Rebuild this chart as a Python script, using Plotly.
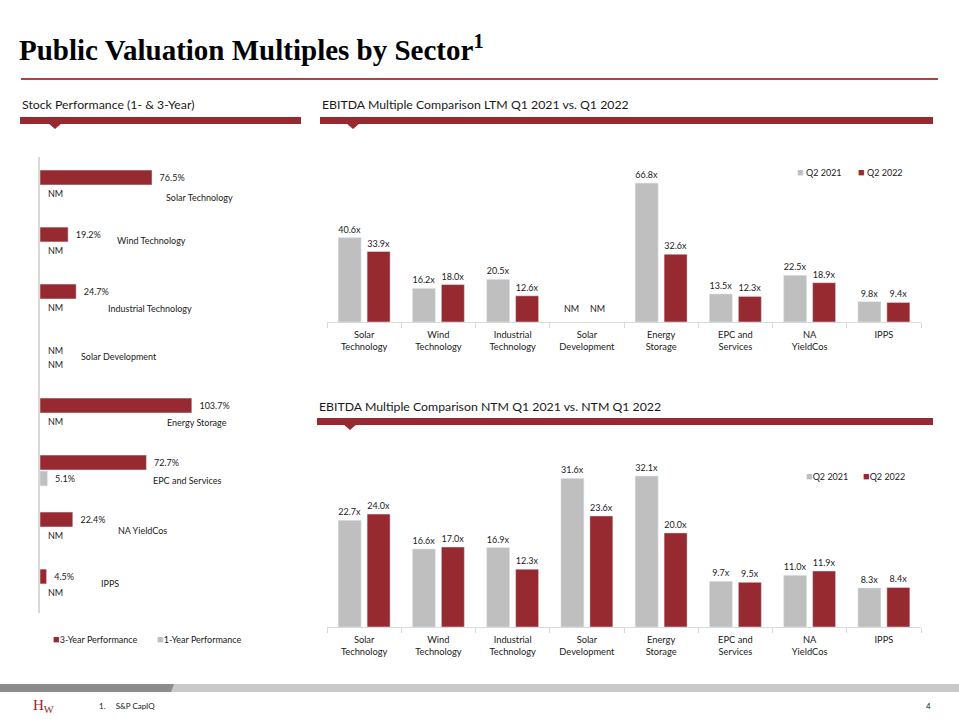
import plotly.graph_objects as go

# ---------------- data ----------------
perf_categories = ["Solar Technology", "Wind Technology", "Industrial Technology", "Solar Development",
                   "Energy Storage", "EPC and Services", "NA YieldCos", "IPPS"]
perf_3yr = [76.5, 19.2, 24.7, None, 103.7, 72.7, 22.4, 4.5]
perf_1yr = [None, None, None, None, None, 5.1, None, None]

sectors = ["Solar<br>Technology", "Wind<br>Technology", "Industrial<br>Technology", "Solar<br>Development",
           "Energy<br>Storage", "EPC and<br>Services", "NA<br>YieldCos", "IPPS"]
ltm_2021 = [40.6, 16.2, 20.5, None, 66.8, 13.5, 22.5, 9.8]
ltm_2022 = [33.9, 18.0, 12.6, None, 32.6, 12.3, 18.9, 9.4]
ntm_2021 = [22.7, 16.6, 16.9, 31.6, 32.1, 9.7, 11.0, 8.3]
ntm_2022 = [24.0, 17.0, 12.3, 23.6, 20.0, 9.5, 11.9, 8.4]

series_names = ["Q2 2021", "Q2 2022"]
perf_series = ["3-Year Performance", "1-Year Performance"]

# label placement for left chart category names (x in % units, y shift px)
perf_label_x = [109, 76, 75, 54, 107, 100.5, 70, 47.5]
perf_label_dy = [-12, 2.5, -8.5, 0, -8.5, -9.5, -2.5, 1.5]

RED = "#962a30"
GRAY = "#bfbfbf"
TXT = "#1a1a1a"
FONT = "Lato"
W, H = 959, 719


def px(x):
    return x / W


def py(y):
    return 1 - y / H


fig = go.Figure()

# ---------------- left: stock performance ----------------
fig.add_trace(go.Bar(
    y=perf_categories, x=perf_3yr, orientation="h", name=perf_series[0],
    marker=dict(color=RED), width=0.26, offset=-0.27,
    texttemplate="  %{x:.1f}%", textposition="outside",
    textfont=dict(size=9, color=TXT, family=FONT), cliponaxis=False,
    xaxis="x", yaxis="y", showlegend=False))
fig.add_trace(go.Bar(
    y=perf_categories, x=perf_1yr, orientation="h", name=perf_series[1],
    marker=dict(color=GRAY), width=0.26, offset=0.01,
    texttemplate="  %{x:.1f}%", textposition="outside",
    textfont=dict(size=9, color=TXT, family=FONT), cliponaxis=False,
    xaxis="x", yaxis="y", showlegend=False))

# ---------------- top right: LTM ----------------
fig.add_trace(go.Bar(x=sectors, y=ltm_2021, name=series_names[0], marker=dict(color=GRAY),
                     width=0.31, offset=-0.35,
                     texttemplate="%{y:.1f}x", textposition="outside", cliponaxis=False,
                     textfont=dict(size=9, color=TXT, family=FONT),
                     xaxis="x2", yaxis="y2", showlegend=False))
fig.add_trace(go.Bar(x=sectors, y=ltm_2022, name=series_names[1], marker=dict(color=RED),
                     width=0.31, offset=0.04,
                     texttemplate="%{y:.1f}x", textposition="outside", cliponaxis=False,
                     textfont=dict(size=9, color=TXT, family=FONT),
                     xaxis="x2", yaxis="y2", showlegend=False))

# ---------------- bottom right: NTM ----------------
fig.add_trace(go.Bar(x=sectors, y=ntm_2021, name=series_names[0], marker=dict(color=GRAY),
                     width=0.31, offset=-0.35,
                     texttemplate="%{y:.1f}x", textposition="outside", cliponaxis=False,
                     textfont=dict(size=9, color=TXT, family=FONT),
                     xaxis="x3", yaxis="y3", showlegend=False))
fig.add_trace(go.Bar(x=sectors, y=ntm_2022, name=series_names[1], marker=dict(color=RED),
                     width=0.31, offset=0.04,
                     texttemplate="%{y:.1f}x", textposition="outside", cliponaxis=False,
                     textfont=dict(size=9, color=TXT, family=FONT),
                     xaxis="x3", yaxis="y3", showlegend=False))

axis_common = dict(showgrid=False, zeroline=False)
fig.update_layout(
    width=W, height=H, margin=dict(l=0, r=0, t=0, b=0),
    paper_bgcolor="white", plot_bgcolor="white",
    barmode="group",
    font=dict(family=FONT, color=TXT),
    xaxis=dict(domain=[px(40), px(300)], range=[0, 177.6], visible=False, anchor="y", **axis_common),
    yaxis=dict(domain=[py(613), py(157)], autorange="reversed", showticklabels=False,
               showline=True, linecolor="#d9d9d9", linewidth=2, ticks="", anchor="x", **axis_common),
    xaxis2=dict(domain=[px(327), px(921)], anchor="y2", showline=True, linecolor="#d9d9d9", linewidth=1,
                ticks="outside", tickson="boundaries", ticklen=5, tickcolor="#d9d9d9",
                ticklabelstandoff=4,
                tickfont=dict(size=9.3, color=TXT, family=FONT), **axis_common),
    yaxis2=dict(domain=[py(322), py(160)], range=[0, 77.9], visible=False, anchor="x2", **axis_common),
    xaxis3=dict(domain=[px(327), px(921)], anchor="y3", showline=True, linecolor="#d9d9d9", linewidth=1,
                ticks="outside", tickson="boundaries", ticklen=5, tickcolor="#d9d9d9",
                ticklabelstandoff=4,
                tickfont=dict(size=9.3, color=TXT, family=FONT), **axis_common),
    yaxis3=dict(domain=[py(627), py(460)], range=[0, 35.5], visible=False, anchor="x3", **axis_common),
)

shapes = []
annotations = []

# title + rule
annotations.append(dict(x=px(17), y=py(48), xref="paper", yref="paper", xanchor="left", yanchor="middle",
                        text="<b>Public Valuation Multiples by Sector<sup>1</sup></b>", showarrow=False,
                        font=dict(family="Liberation Serif", size=29, color="#000000")))
shapes.append(dict(type="line", xref="paper", yref="paper", x0=px(21), x1=px(938), y0=py(79), y1=py(79),
                   line=dict(color="#a8454a", width=2)))


def header(x0, x1, ytext, ybar, tri_x, text):
    annotations.append(dict(x=px(x0), y=py(ytext), xref="paper", yref="paper", xanchor="left", yanchor="middle",
                            text=text, showarrow=False, font=dict(family=FONT, size=12.3, color=TXT)))
    shapes.append(dict(type="rect", xref="paper", yref="paper", x0=px(x0), x1=px(x1),
                       y0=py(ybar + 7), y1=py(ybar), line=dict(width=0), fillcolor=RED))
    shapes.append(dict(type="path", xref="paper", yref="paper",
                       path=f"M {px(tri_x - 7)} {py(ybar + 6)} L {px(tri_x + 7)} {py(ybar + 6)} L {px(tri_x)} {py(ybar + 12)} Z",
                       line=dict(width=0), fillcolor=RED))


header(20, 301, 105, 117, 55, "Stock Performance (1- & 3-Year)")
header(320, 933, 105, 117, 353, "EBITDA Multiple Comparison LTM Q1 2021 vs. Q1 2022")
header(317, 933, 406, 418, 350, "EBITDA Multiple Comparison NTM Q1 2021 vs. NTM Q1 2022")

# left chart category labels and NM markers
for i, cat in enumerate(perf_categories):
    annotations.append(dict(x=perf_label_x[i], y=cat, xref="x", yref="y", yshift=perf_label_dy[i],
                            text=cat, showarrow=False, font=dict(size=9, color=TXT, family=FONT)))
    if perf_3yr[i] is None:
        annotations.append(dict(x=0, y=cat, xref="x", yref="y", xanchor="left", xshift=6, yshift=6,
                                text="NM", showarrow=False, font=dict(size=9, color=TXT, family=FONT)))
    if perf_1yr[i] is None:
        annotations.append(dict(x=0, y=cat, xref="x", yref="y", xanchor="left", xshift=6, yshift=-8,
                                text="NM", showarrow=False, font=dict(size=9, color=TXT, family=FONT)))

# NM markers on LTM chart
for i, s in enumerate(sectors):
    if ltm_2021[i] is None:
        annotations.append(dict(x=s, y=0, xref="x2", yref="y2", xshift=-15, yshift=14, text="NM",
                                showarrow=False, font=dict(size=9, color=TXT, family=FONT)))
    if ltm_2022[i] is None:
        annotations.append(dict(x=s, y=0, xref="x2", yref="y2", xshift=11, yshift=14, text="NM",
                                showarrow=False, font=dict(size=9, color=TXT, family=FONT)))


def legend_item(x, y, color, text):
    annotations.append(dict(x=px(x), y=py(y), xref="paper", yref="paper", xanchor="left", yanchor="middle",
                            text=f"<span style='color:{color};font-size:11px'>■</span>{text}", showarrow=False,
                            font=dict(size=9, color=TXT, family=FONT)))


legend_item(795, 171, GRAY, " " + series_names[0])
legend_item(856, 171, RED, " " + series_names[1])
legend_item(804, 476, GRAY, series_names[0])
legend_item(861, 476, RED, series_names[1])
legend_item(51, 638, RED, perf_series[0])
legend_item(155, 638, GRAY, perf_series[1])

# footer band
shapes.append(dict(type="rect", xref="paper", yref="paper", x0=0, x1=1, y0=py(692), y1=py(684),
                   line=dict(width=0), fillcolor="#c8c8c8"))
shapes.append(dict(type="path", xref="paper", yref="paper",
                   path=f"M 0 {py(684)} L {px(174)} {py(684)} L {px(171)} {py(692)} L 0 {py(692)} Z",
                   line=dict(width=0), fillcolor="#8c8c8c"))
annotations.append(dict(x=px(31), y=py(706), xref="paper", yref="paper", yanchor="middle",
                        text="H<sub>W</sub>", showarrow=False,
                        font=dict(family="Liberation Serif", size=15, color="#8b2a2f")))
annotations.append(dict(x=px(97), y=py(706), xref="paper", yref="paper", xanchor="left", yanchor="middle",
                        text="1.&nbsp;&nbsp;&nbsp;&nbsp;&nbsp;S&amp;P CapIQ", showarrow=False,
                        font=dict(size=8, color=TXT, family=FONT)))
annotations.append(dict(x=px(933), y=py(706), xref="paper", yref="paper", yanchor="middle",
                        text="4", showarrow=False, font=dict(size=8, color=TXT, family=FONT)))

fig.update_layout(shapes=shapes, annotations=annotations)
fig.write_html("out.html", config={"displayModeBar": False},
               post_script="document.body.style.margin='0';document.body.style.overflow='hidden';")
